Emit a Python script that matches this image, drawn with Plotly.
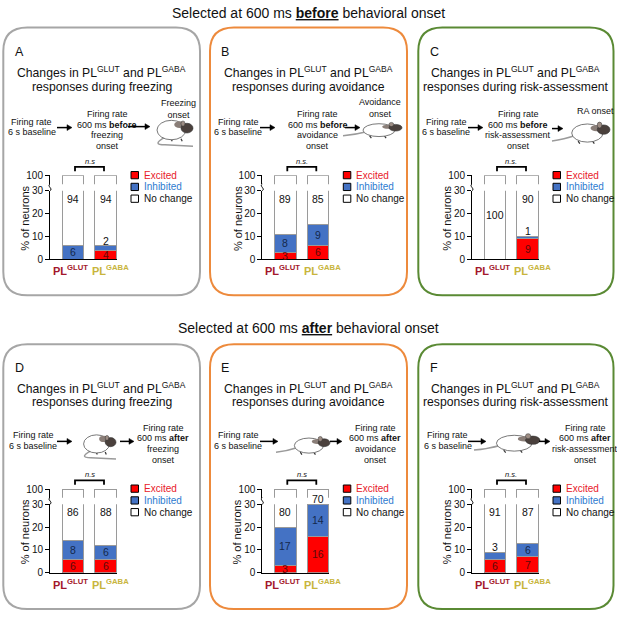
import plotly.graph_objects as go

W, H = 617, 618
FONT = "Liberation Sans, Arial, sans-serif"

# ---- data ----
panel_letters = ["A", "B", "C", "D", "E", "F"]
behaviors = ["freezing", "avoidance", "risk-assessment"]
timings = ["before", "after"]
cell_types = ["GLUT", "GABA"]
categories = ["Excited", "Inhibited", "No change"]
excited = [[0, 4], [3, 6], [0, 9], [6, 6], [3, 16], [6, 7]]
inhibited = [[6, 2], [8, 9], [0, 1], [8, 6], [17, 14], [3, 6]]
no_change = [[94, 94], [89, 85], [100, 90], [86, 88], [80, 70], [91, 87]]
stat_labels = ["n.s", "n.s.", "n.s.", "n.s", "n.s", "n.s."]
onset_labels = ["Freezing<br>onset", "Avoidance<br>onset", "RA onset"]

RED, BLUE = "#ff0000", "#4472c4"
CELL_COLORS = ["#a3172b", "#c8b53c"]
LEG_TEXT = ["#e8202a", "#2e7bd0", "#111111"]
BOX_COLORS = ["#a6a6a6", "#ed8a3c", "#5a8a34"]

BOX_X = [(3.3, 200), (210, 407), (418.3, 613.5)]
BOX_Y = [(22, 295), (345, 615)]
TOP_DY = [0, 322]
CHART_DX = [0, 212.3, 422]
CHART_DY = [0, 319.7]

shapes, annos = [], []


def px(x):
    return x / W


def py(y):
    return 1 - y / H


def path(cmds, close=False):
    out = []
    for c, pts in cmds:
        out.append(c + " " + " ".join(f"{px(x):.5f},{py(y):.5f}" for x, y in pts))
    return " ".join(out) + (" Z" if close else "")


def text(x, y, s, size=9, color="#111111", anchor="center", **kw):
    annos.append(dict(x=px(x), y=py(y), xref="paper", yref="paper", text=s, showarrow=False,
                      xanchor=anchor, yanchor="middle",
                      font=dict(family=FONT, size=size, color=color), **kw))


def arrow(x0, x1, y):
    shapes.append(dict(type="line", xref="paper", yref="paper", x0=px(x0), x1=px(x1 - 4),
                       y0=py(y), y1=py(y), line=dict(color="black", width=1.5)))
    shapes.append(dict(type="path", xref="paper", yref="paper",
                       path=path([("M", [(x1 - 5, y - 3)]), ("L", [(x1, y)]), ("L", [(x1 - 5, y + 3)])],
                                 close=True),
                       fillcolor="black", line=dict(color="black", width=0.5)))


def rounded_box(x0, y0, x1, y1, r, color):
    d = path([("M", [(x0 + r, y0)]), ("L", [(x1 - r, y0)]), ("Q", [(x1, y0), (x1, y0 + r)]),
              ("L", [(x1, y1 - r)]), ("Q", [(x1, y1), (x1 - r, y1)]), ("L", [(x0 + r, y1)]),
              ("Q", [(x0, y1), (x0, y1 - r)]), ("L", [(x0, y0 + r)]),
              ("Q", [(x0, y0), (x0 + r, y0)])], close=True)
    shapes.append(dict(type="path", xref="paper", yref="paper", path=d,
                       line=dict(color=color, width=2)))


def ellipse(x0, y0, x1, y1, fill, line="#555555", lw=0.8):
    shapes.append(dict(type="circle", xref="paper", yref="paper", x0=px(x0), x1=px(x1),
                       y0=py(y1), y1=py(y0), fillcolor=fill, line=dict(color=line, width=lw)))


def rat(x0, y0, x1, y1, curled=False):
    w, h = x1 - x0, y1 - y0
    X = lambda f: x0 + f * w
    Y = lambda f: y0 + f * h
    if curled:
        tail = path([("M", [(X(0.3), Y(0.7))]), ("Q", [(X(-0.05), Y(0.95)), (X(0.3), Y(0.95))]),
                     ("L", [(X(1.0), Y(1.0))])])
        body = (X(0.1), Y(0.12), X(0.82), Y(0.78))
        head = (X(0.7), Y(0.22), X(1.0), Y(0.55))
        ear = (X(0.7), Y(0.14), X(0.8), Y(0.32))
    else:
        tail = path([("M", [(X(0.0), Y(0.9))]), ("Q", [(X(0.2), Y(0.85)), (X(0.42), Y(0.65))])])
        body = (X(0.34), Y(0.18), X(0.88), Y(0.95))
        head = (X(0.78), Y(0.22), X(1.0), Y(0.62))
        ear = (X(0.78), Y(0.1), X(0.86), Y(0.35))
    shapes.append(dict(type="path", xref="paper", yref="paper", path=tail,
                       line=dict(color="#9a9a9a", width=1.5)))
    # legs
    for f in (0.45, 0.7):
        shapes.append(dict(type="line", xref="paper", yref="paper", x0=px(X(f)), x1=px(X(f + 0.03)),
                           y0=py(body[3] - 1), y1=py(body[3] + 1.5),
                           line=dict(color="#333333", width=1.2)))
    ellipse(*body, fill="white")
    ellipse(body[0] + 0.6 * (body[2] - body[0]), body[1] + 1, body[2] - 1, body[1] + 0.4 * (body[3] - body[1]),
            fill="#8a7e78", lw=0)
    ellipse(*head, fill="#4a403c", line="#333333", lw=0.6)
    ellipse(*ear, fill="#9d8d84", line="#333333", lw=0.5)


fig = go.Figure()

for row in range(2):
    text(308.5, 7.5 + 321 * row,
         f"Selected at 600 ms <b><u>{timings[row]}</u></b> behavioral onset", size=14)

for k in range(6):
    col, row = k % 3, k // 3
    dx, dy, tdy = CHART_DX[col], CHART_DY[row], TOP_DY[row]
    bx0, bx1 = BOX_X[col]
    by0, by1 = BOX_Y[row]
    rounded_box(bx0, by0, bx1, by1, 24, BOX_COLORS[col])
    text(bx0 + 9.5, 46.7 + tdy, panel_letters[k], size=12.5, anchor="left")
    cx = (bx0 + bx1) / 2
    text(cx, 67.3 + tdy, "Changes in PL<sup>GLUT</sup> and PL<sup>GABA</sup>", size=12.2)
    text(cx, 82.3 + tdy, f"responses during {behaviors[col]}", size=12.2)

    # ---- axes ----
    xs = "" if k == 0 else str(k + 1)
    ylo = "" if k == 0 else str(2 * k + 1)
    yhi = str(2 * k + 2)
    axis_style = dict(showline=True, linecolor="black", linewidth=1, ticks="outside", ticklen=4,
                      tickwidth=1, tickcolor="black", showgrid=False, zeroline=False,
                      tickfont=dict(family=FONT, size=10, color="#111111"))
    fig.layout["xaxis" + xs] = dict(
        domain=[px(50 + dx), px(117 + dx)], anchor="y" + ylo, range=[-0.71, 1.35],
        showline=True, linecolor="black", linewidth=1, ticks="", showgrid=False, zeroline=False,
        showticklabels=False)
    fig.layout["yaxis" + ylo] = dict(domain=[py(258.3 + dy), py(188.3 + dy)], anchor="x" + xs,
                                     range=[0, 30], tickvals=[0, 10, 20, 30], **axis_style)
    fig.layout["yaxis" + yhi] = dict(domain=[py(181.7 + dy), py(172.5 + dy)], anchor="x" + xs,
                                     range=[96, 100.4], tickvals=[100], **axis_style)

    # ---- stacked bars, drawn on both halves of the broken axis ----
    for ya in ("y" + ylo, "y" + yhi):
        for vals, color in ((excited[k], RED), (inhibited[k], BLUE), (no_change[k], "white")):
            fig.add_trace(go.Bar(x=[0, 1], y=vals, width=0.665, xaxis="x" + xs, yaxis=ya,
                                 marker=dict(color=color, line=dict(color="#9a9a9a", width=1)),
                                 showlegend=False, hoverinfo="skip"))

    # category labels under the bars
    for i, (t, c) in enumerate(zip(cell_types, CELL_COLORS)):
        annos.append(dict(xref="x" + xs, yref="y" + ylo, x=i, y=0, yanchor="top", yshift=-2,
                          xshift=-3 if i == 0 else 5, showarrow=False,
                          text=f"<b>PL<sup>{t}</sup></b>",
                          font=dict(family=FONT, size=11, color=c)))

    # axis break mark
    shapes.append(dict(type="path", xref="paper", yref="paper",
                       path=path([("M", [(50 + dx, 181.7 + dy)]),
                                  ("C", [(46.5 + dx, 183.5 + dy), (53.5 + dx, 186.5 + dy),
                                         (50 + dx, 188.3 + dy)])]),
                       line=dict(color="black", width=1)))

    # ---- value labels ----
    for i in range(2):
        e, n, nc = excited[k][i], inhibited[k][i], no_change[k][i]
        lab = dict(xref="x" + xs, yref="y" + ylo, showarrow=False, x=i)
        if e > 0:
            annos.append(dict(lab, y=e / 2, text=str(e),
                              font=dict(family=FONT, size=10.5, color="#5c0a0a")))
        if n >= 4:
            annos.append(dict(lab, y=e + n / 2, text=str(n),
                              font=dict(family=FONT, size=10.5, color="#14284b")))
        elif n > 0:
            annos.append(dict(lab, y=e + n + 2.2, text=str(n),
                              font=dict(family=FONT, size=10.5, color="#111111")))
        base = e + n
        if base >= 27:
            annos.append(dict(lab, yref="y" + yhi, y=96.5, yshift=-2, text=str(nc),
                              font=dict(family=FONT, size=10.5, color="#111111")))
        else:
            annos.append(dict(lab, y=19.5 if base == 0 else 26.5, text=str(nc),
                              font=dict(family=FONT, size=10.5, color="#111111")))

    # y label
    text(25 + dx, 217 + dy, "% of neurons", size=11, textangle=-90)

    # significance bracket
    shapes.append(dict(type="path", xref="paper", yref="paper",
                       path=path([("M", [(75 + dx, 168.5 + dy)]), ("L", [(75 + dx, 164 + dy)]),
                                  ("L", [(104 + dx, 164 + dy)]), ("L", [(104 + dx, 168.5 + dy)])]),
                       line=dict(color="black", width=1.8)))
    text(89.5 + dx, 158.3 + dy, f"<i>{stat_labels[k]}</i>", size=7.5)

    # legend
    for j, (cat, fillc) in enumerate(zip(categories, (RED, BLUE, "white"))):
        yc = 172.5 + 12 * j + dy
        shapes.append(dict(type="rect", xref="paper", yref="paper", x0=px(131 + dx), x1=px(138.5 + dx),
                           y0=py(yc + 3.7), y1=py(yc - 3.7), fillcolor=fillc,
                           line=dict(color="black", width=1)))
        text(141.5 + dx, yc, cat, size=10, color=LEG_TEXT[j], anchor="left")

# ---- schematic rows ----
before_cfg = [
    dict(t1=31.7, a1=(57, 72, 124), t2=107, a2=(128, 150, 123), rat=(153, 113, 193, 143), curled=True,
         on=(178, 105)),
    dict(t1=238.3, a1=(260, 275, 124), t2=318, a2=(345, 360, 124), rat=(343, 117, 402, 134),
         curled=False, on=(380, 104.5)),
    dict(t1=446, a1=(468, 483, 124), t2=518, a2=(552, 563, 125), rat=(552, 116, 610, 140),
         curled=False, on=(595, 107)),
]
for col, c in enumerate(before_cfg):
    text(c["t1"], 118.5, "Firing rate")
    text(c["t1"], 129, "6 s baseline")
    arrow(*c["a1"])
    for j, s in enumerate(["Firing rate", f"600 ms <b>{timings[0]}</b>", behaviors[col], "onset"]):
        text(c["t2"], 110.5 + 10.6 * j, s)
    rat(*c["rat"], curled=c["curled"])
    arrow(*c["a2"])
    text(c["on"][0], c["on"][1], onset_labels[col])

after_cfg = [
    dict(t1=33, a1=(57, 72, 444), rat=(80, 434, 116, 462), curled=True, a2=(120, 134, 444), t2=163),
    dict(t1=238, a1=(260, 278, 444), rat=(276, 437, 330, 457), curled=False, a2=(330, 342, 444), t2=375),
    dict(t1=447.5, a1=(468, 486, 444), rat=(474, 434, 540, 455), curled=False, a2=(539, 550, 444), t2=585),
]
for col, c in enumerate(after_cfg):
    text(c["t1"], 438, "Firing rate")
    text(c["t1"], 448.5, "6 s baseline")
    arrow(*c["a1"])
    rat(*c["rat"], curled=c["curled"])
    arrow(*c["a2"])
    for j, s in enumerate(["Firing rate", f"600 ms <b>{timings[1]}</b>", behaviors[col], "onset"]):
        text(c["t2"], 430 + 11 * j, s)

fig.update_layout(width=W, height=H, margin=dict(l=0, r=0, t=0, b=0), barmode="stack",
                  plot_bgcolor="white", paper_bgcolor="white", showlegend=False,
                  font=dict(family=FONT, color="#111111"), shapes=shapes, annotations=annos)

# the page's default body margin would push the fixed-size figure off the window
fig.write_html("out.html", config={"displayModeBar": False},
               post_script="document.body.style.margin='0';document.body.style.overflow='hidden';")
